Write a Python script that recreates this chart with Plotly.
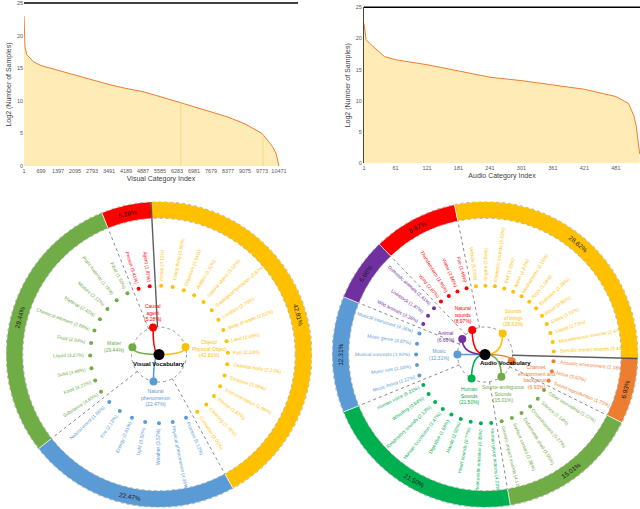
import numpy as np
import plotly.graph_objects as go

# ---------------- data ----------------
visual_index = [1, 8, 20, 42, 110, 384, 699, 1397, 2095, 2793, 3491, 4189, 4887,
                5585, 6283, 6981, 7679, 8377, 9075, 9773, 10000, 10200, 10350, 10430, 10471]
visual_log2 = [23.0, 21.0, 19.5, 18.3, 17.1, 16.0, 15.4, 14.65, 13.9, 13.2, 12.5, 11.9, 11.4,
               10.65, 9.9, 9.1, 8.3, 7.5, 6.45, 5.0, 4.0, 3.0, 1.95, 0.9, 0.0]
visual_ticks = [1, 699, 1397, 2095, 2793, 3491, 4189, 4887, 5585, 6283, 6981,
                7679, 8377, 9075, 9773, 10471]
visual_stripes = [6440, 9815]

audio_index = [1, 2, 5, 12, 25, 40, 61, 121, 181, 241, 301, 361, 421, 481,
               505, 515, 520, 523, 525, 526.5]
audio_log2 = [22.4, 21.5, 19.8, 19.2, 18.2, 17.1, 16.6, 15.8, 14.8, 13.8, 13.25, 12.55,
              11.86, 10.7, 9.6, 7.7, 5.9, 3.7, 2.2, 1.5]
audio_ticks = [1, 61, 121, 181, 241, 301, 361, 421, 481]

log_ticks = [0, 5, 10, 15, 20, 25]

# visual vocabulary
visual_groups = ["Causal<br>agent", "Object/<br>Physical Object", "Natural<br>phenomenon", "Matter"]
visual_pct = [5.28, 42.81, 22.47, 29.44]
visual_colors = ["#FF0000", "#FFC000", "#5B9BD5", "#70AD47"]
visual_leaf_red = ["Person", "Agent"]
visual_leaf_red_pct = [3.41, 1.87]
visual_leaf_yellow = ["Whole", "Living thing", "Organism", "Artifact", "Natural object",
                      "Geological formation", "Location", "Body of water", "Land", "Part",
                      "Celestial body", "Structure", "Instrumentation", "Device", "Covering",
                      "Container"]
visual_leaf_yellow_pct = [4.12, 3.86, 3.54, 3.31, 3.02, 2.87, 2.75, 2.61, 2.48, 2.33,
                          2.21, 2.09, 1.98, 1.87, 1.76, 2.01]
visual_leaf_blue = ["Process", "Physical phenomenon", "Weather", "Light", "Energy", "Fire",
                    "Natural event"]
visual_leaf_blue_pct = [5.12, 4.36, 3.57, 3.02, 2.61, 2.13, 1.66]
visual_leaf_green = ["Substance", "Food", "Solid", "Liquid", "Fluid", "Chemical element",
                     "Material", "Mixture", "Plant material", "Fiber"]
visual_leaf_green_pct = [4.85, 4.21, 3.66, 3.27, 2.94, 2.68, 2.43, 2.12, 1.78, 1.50]

# audio vocabulary (AudioSet top level)
audio_groups = ["Natural<br>sounds", "Sounds<br>of things", "Channel,<br>environment and<br>background",
                "Source-ambiguous<br>Sounds", "Human<br>Sounds", "Music", "Animal"]
audio_pct = [8.97, 28.62, 6.93, 15.01, 21.50, 12.31, 6.66]
audio_colors = ["#FF0000", "#FFC000", "#ED7D31", "#70AD47", "#00B050", "#5B9BD5", "#7030A0"]
audio_leaf_natural = ["Wind", "Thunderstorm", "Water", "Fire"]
audio_leaf_natural_pct = [2.87, 1.95, 2.66, 1.49]
audio_leaf_things = ["Vehicle", "Engine", "Domestic sounds", "Bell", "Alarm", "Mechanisms",
                     "Tools", "Explosion", "Wood", "Glass", "Liquid", "Miscellaneous sources",
                     "Specific impact sounds"]
audio_leaf_things_pct = [5.21, 2.84, 2.63, 1.32, 1.87, 2.15, 1.64, 1.28, 0.96, 1.11, 1.73, 2.47, 3.41]
audio_leaf_channel = ["Acoustic environment", "Noise", "Sound reproduction"]
audio_leaf_channel_pct = [2.18, 3.02, 1.73]
audio_leaf_ambiguous = ["Other sourceless", "Silence", "Onomatopoeia", "Deformable shell",
                        "Surface contact", "Generic impact sounds"]
audio_leaf_ambiguous_pct = [1.07, 1.14, 5.27, 1.05, 2.36, 4.12]
audio_leaf_human = ["Human group actions", "Otoacoustic emission", "Heart sounds", "Hands",
                    "Digestive", "Human locomotion", "Respiratory sounds", "Whistling",
                    "Human voice"]
audio_leaf_human_pct = [4.23, 0.35, 0.77, 2.92, 1.58, 2.47, 2.13, 0.84, 6.21]
audio_leaf_music = ["Music mood", "Music role", "Musical concepts", "Music genre",
                    "Musical instrument"]
audio_leaf_music_pct = [1.12, 1.04, 1.92, 3.87, 4.36]
audio_leaf_animal = ["Wild animals", "Livestock", "Domestic animals"]
audio_leaf_animal_pct = [2.38, 1.87, 2.41]

# ---------------- styling ----------------
W, H = 640, 509
FONT = "Liberation Sans"
ORANGE = "#ED7D31"
FILL = "#FFEBB5"
R_PX = 153
LEAF_FS = 4.8
RING_IN = 0.89

fig = go.Figure()

# ---------------- distribution curves ----------------
fig.add_trace(go.Scatter(x=visual_index, y=visual_log2, mode="lines",
                         line=dict(color=ORANGE, width=1), fill="tozeroy", fillcolor=FILL,
                         xaxis="x", yaxis="y", hoverinfo="skip"))
for s in visual_stripes:
    top = float(np.interp(s, visual_index, visual_log2))
    fig.add_trace(go.Scatter(x=[s, s], y=[0, top], mode="lines",
                             line=dict(color="#F8D980", width=1),
                             xaxis="x", yaxis="y", hoverinfo="skip"))
fig.add_trace(go.Scatter(x=audio_index, y=audio_log2, mode="lines",
                         line=dict(color=ORANGE, width=1), fill="tozeroy", fillcolor=FILL,
                         xaxis="x2", yaxis="y2", hoverinfo="skip"))

tick_font = dict(family=FONT, size=5.5, color="#595959")
title_font = dict(family=FONT, size=7, color="#404040")
common = dict(showgrid=False, zeroline=False, ticks="", tickfont=tick_font, tickangle=0)

fig.update_layout(
    xaxis=dict(domain=[24 / W, 298 / W], range=[1, 11251], tickvals=visual_ticks,
               ticktext=[str(v) for v in visual_ticks],
               title=dict(text="Visual Category Index", font=title_font, standoff=3),
               showline=False, anchor="y", **common),
    yaxis=dict(domain=[1 - 166 / H, 1 - 3 / H], range=[0, 25], tickvals=log_ticks,
               title=dict(text="Log2 (Number of Samples)", font=title_font, standoff=4),
               showline=False, anchor="x", **common),
    xaxis2=dict(domain=[364 / W, 1.0], range=[1, 527], tickvals=audio_ticks,
                ticktext=[str(v) for v in audio_ticks],
                title=dict(text="Audio Category Index", font=title_font, standoff=3),
                showline=False, anchor="y2", **common),
    yaxis2=dict(domain=[1 - 163.3 / H, 1 - 7.3 / H], range=[0, 25], tickvals=log_ticks,
                title=dict(text="Log2 (Number of Samples)", font=title_font, standoff=4),
                showline=True, linecolor="#4a4630", linewidth=1, anchor="x2", **common),
)
# top frame lines
fig.add_shape(type="line", xref="x domain", yref="paper", x0=0, x1=1,
              y0=1 - 3 / H, y1=1 - 3 / H, line=dict(color="black", width=1.5))
fig.add_shape(type="line", xref="x2 domain", yref="paper", x0=0, x1=1,
              y0=1 - 7.3 / H, y1=1 - 7.3 / H, line=dict(color="black", width=1.5))

# ---------------- vocabulary wheels ----------------
polar_style = dict(bgcolor="rgba(0,0,0,0)",
                   radialaxis=dict(visible=False, range=[0, 1]),
                   angularaxis=dict(visible=False, rotation=90, direction="clockwise"))


def xy(r, t):
    a = np.radians(t)
    return r * np.sin(a), r * np.cos(a)


def wheel(polar, xa, ya, start, pcts, colors, groups, leaves, leaf_pcts,
          node_styles, title, title_style, solid_edge):
    n = len(pcts)
    spans = np.array(pcts) * 3.6
    edges = start + np.concatenate([[0], np.cumsum(spans)])
    mids = (edges[:-1] + edges[1:]) / 2

    # outer ring
    fig.add_trace(go.Barpolar(r=[1 - RING_IN] * n, base=[RING_IN] * n, theta=mids, width=spans,
                              marker=dict(color=colors, line=dict(color="white", width=0.6)),
                              subplot=polar, hoverinfo="skip"))
    for rr in (RING_IN, 1.0):
        fig.add_shape(type="circle", xref=xa, yref=ya, x0=-rr, x1=rr, y0=-rr, y1=rr,
                      line=dict(color="#8c8c8c", width=0.6, dash="dot"), layer="above")
    fig.add_shape(type="circle", xref=xa, yref=ya, x0=-0.18, x1=0.18, y0=-0.18, y1=0.18,
                  line=dict(color="#666666", width=0.7, dash="dot"), layer="below")

    # separators between groups
    for i, e in enumerate(edges[:-1]):
        if i == solid_edge:
            fig.add_trace(go.Scatterpolar(r=[0.18, 1.0], theta=[e, e], mode="lines",
                                          line=dict(color="rgba(40,40,40,0.75)", width=1.4),
                                          subplot=polar, hoverinfo="skip"))
        else:
            fig.add_trace(go.Scatterpolar(r=[0.18, RING_IN], theta=[e, e], mode="lines",
                                          line=dict(color="#555555", width=0.7, dash="dot"),
                                          subplot=polar, hoverinfo="skip"))

    # percentages on the ring
    for p, t in zip(pcts, mids):
        x, y = xy((1 + RING_IN) / 2, t)
        tn = (t + 180) % 360 - 180
        ang = tn if -90 <= tn <= 90 else (tn - 180 if tn > 0 else tn + 180)
        fig.add_annotation(x=x, y=y, xref=xa, yref=ya, text=f"{p:.2f}%", textangle=ang,
                           showarrow=False, xanchor="center", yanchor="middle",
                           font=dict(family=FONT, size=6.5, color="#1a1a1a"))

    # leaves
    for g in range(n):
        names, lp = leaves[g], leaf_pcts[g]
        k = len(names)
        th = edges[g] + (np.arange(k) + 0.5) * spans[g] / k
        fig.add_trace(go.Scatterpolar(r=[0.45] * k, theta=th, mode="markers",
                                      marker=dict(size=4, color=colors[g]),
                                      subplot=polar, hoverinfo="skip"))
        for name, p, t in zip(names, lp, th):
            txt = f"{name} ({p:.2f}%)"
            w = len(txt) * 0.5 * LEAF_FS / R_PX
            x, y = xy(0.48 + w / 2, t)
            tm = t % 360
            ang = tm - 90 if tm <= 180 else tm - 270
            fig.add_annotation(x=x, y=y, xref=xa, yref=ya, text=txt, textangle=ang,
                               showarrow=False, xanchor="center", yanchor="middle",
                               font=dict(family=FONT, size=LEAF_FS, color=colors[g]))

    # group nodes linked to the centre
    nx, ny = xy(0.18, mids)
    for g in range(n):
        fig.add_shape(type="path", xref=xa, yref=ya, layer="below",
                      path=f"M 0,0 Q {nx[g]:.4f},0 {nx[g]:.4f},{ny[g]:.4f}",
                      line=dict(color=colors[g], width=1.6))
    fig.add_trace(go.Scatterpolar(r=[0.18] * n, theta=mids, mode="markers",
                                  marker=dict(size=8, color=colors),
                                  subplot=polar, hoverinfo="skip"))
    fig.add_trace(go.Scatterpolar(r=[0], theta=[0], mode="markers",
                                  marker=dict(size=11, color="black"),
                                  subplot=polar, hoverinfo="skip"))
    for g in range(n):
        xan, yan, dx, dy = node_styles[g]
        fig.add_annotation(x=nx[g], y=ny[g], xref=xa, yref=ya,
                           text=f"{groups[g]}<br>({pcts[g]:.2f}%)",
                           showarrow=False, xanchor=xan, yanchor=yan, xshift=dx, yshift=dy,
                           align="center", font=dict(family=FONT, size=5, color=colors[g]))
    xan, yan, dx, dy = title_style
    fig.add_annotation(x=0, y=0, xref=xa, yref=ya, text=f"<b>{title}</b>", showarrow=False,
                       xanchor=xan, yanchor=yan, xshift=dx, yshift=dy,
                       font=dict(family=FONT, size=6, color="black"))


left_y = [1 - 507.5 / H, 1 - 201.5 / H]
fig.update_layout(
    polar=dict(domain=dict(x=[6 / W, 312 / W], y=left_y), **polar_style),
    polar2=dict(domain=dict(x=[332 / W, 638 / W], y=left_y), **polar_style),
    xaxis3=dict(domain=[6 / W, 312 / W], range=[-1, 1], visible=False, anchor="y3"),
    yaxis3=dict(domain=left_y, range=[-1, 1], visible=False, anchor="x3"),
    xaxis4=dict(domain=[332 / W, 638 / W], range=[-1, 1], visible=False, anchor="y4"),
    yaxis4=dict(domain=left_y, range=[-1, 1], visible=False, anchor="x4"),
)

wheel("polar", "x3", "y3", -22.0, visual_pct, visual_colors, visual_groups,
      [visual_leaf_red, visual_leaf_yellow, visual_leaf_blue, visual_leaf_green],
      [visual_leaf_red_pct, visual_leaf_yellow_pct, visual_leaf_blue_pct, visual_leaf_green_pct],
      [("center", "bottom", 0, 4), ("left", "middle", 5, -2),
       ("center", "top", 2, -5), ("right", "middle", -5, 1)],
      "Visual Vocabulary", ("center", "top", 0, -4), 1)

wheel("polar2", "x4", "y4", -43.8, audio_pct, audio_colors, audio_groups,
      [audio_leaf_natural, audio_leaf_things, audio_leaf_channel, audio_leaf_ambiguous,
       audio_leaf_human, audio_leaf_music, audio_leaf_animal],
      [audio_leaf_natural_pct, audio_leaf_things_pct, audio_leaf_channel_pct,
       audio_leaf_ambiguous_pct, audio_leaf_human_pct, audio_leaf_music_pct,
       audio_leaf_animal_pct],
      [("right", "bottom", 2, 4), ("left", "bottom", -2, 4), ("left", "top", 4, -1),
       ("center", "top", 2, -5), ("center", "top", -2, -5), ("right", "middle", -5, 0),
       ("right", "middle", -5, 3)],
      "Audio Vocabulary", ("left", "top", -7, -3), 2)

fig.update_layout(width=W, height=H, margin=dict(l=0, r=0, t=0, b=0),
                  paper_bgcolor="white", plot_bgcolor="white", showlegend=False,
                  template="none")

fig.write_html("out.html", config={"displayModeBar": False},
               post_script="document.body.style.margin='0';")
